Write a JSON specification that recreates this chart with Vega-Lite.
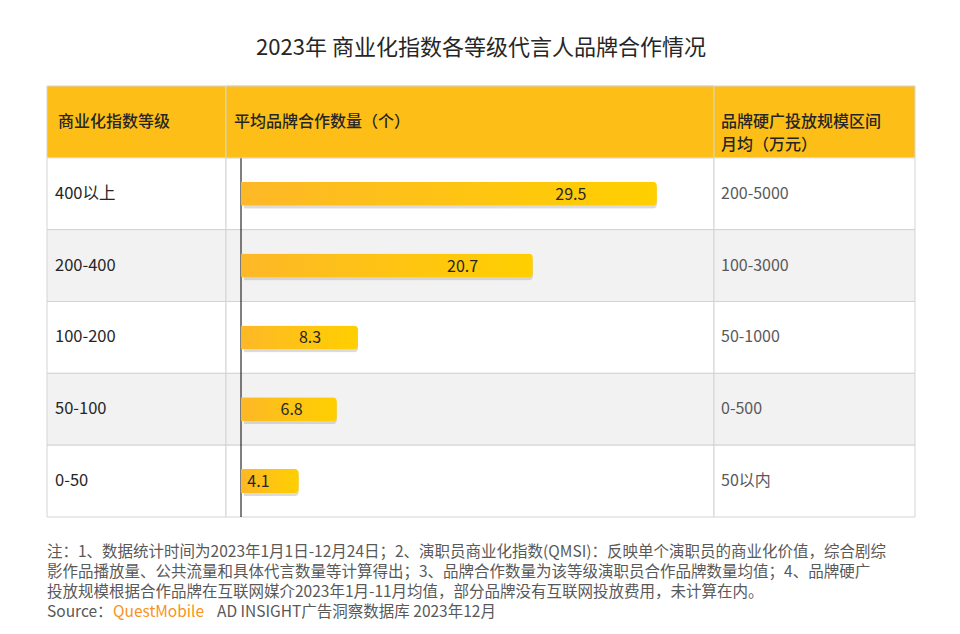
{
  "$schema": "https://vega.github.io/schema/vega-lite/v6.json",
  "padding": {"left": 46, "right": 46, "top": 36, "bottom": 8},
  "background": "white",
  "config": {"font": "Noto Sans CJK SC", "view": {"stroke": null}},
  "title": {"text": "2023年 商业化指数各等级代言人品牌合作情况", "fontSize": 22, "fontWeight": "normal", "color": "#262626", "anchor": "middle", "offset": 26},
  "datasets": {
    "table": [
      {"row": "h", "c1": "商业化指数等级", "c2": "平均品牌合作数量（个）", "c3": "品牌硬广投放规模区间\n月均（万元）"},
      {"row": "400以上", "c1": "400以上", "count": 29.5, "c3": "200-5000"},
      {"row": "200-400", "c1": "200-400", "count": 20.7, "c3": "100-3000"},
      {"row": "100-200", "c1": "100-200", "count": 8.3, "c3": "50-1000"},
      {"row": "50-100", "c1": "50-100", "count": 6.8, "c3": "0-500"},
      {"row": "0-50", "c1": "0-50", "count": 4.1, "c3": "50以内"}
    ],
    "notes": [
      {"line": 1, "part": "n", "text": "注：1、数据统计时间为2023年1月1日-12月24日；2、演职员商业化指数(QMSI)：反映单个演职员的商业化价值，综合剧综"},
      {"line": 2, "part": "n", "text": "影作品播放量、公共流量和具体代言数量等计算得出；3、品牌合作数量为该等级演职员合作品牌数量均值；4、品牌硬广"},
      {"line": 3, "part": "n", "text": "投放规模根据合作品牌在互联网媒介2023年1月-11月均值，部分品牌没有互联网投放费用，未计算在内。"},
      {"line": 4, "part": "a", "text": "Source："},
      {"line": 4, "part": "b", "text": "QuestMobile"},
      {"line": 4, "part": "c", "text": "AD INSIGHT广告洞察数据库 2023年12月"}
    ]
  },
  "spacing": 24,
  "vconcat": [
    {
      "spacing": 0,
      "bounds": "flush",
      "hconcat": [
        {
          "width": 179, "height": 431,
          "data": {"name": "table"},
          "layer": [
            {
              "mark": {"type": "rect", "stroke": "#D4D4D4", "strokeWidth": 1},
              "encoding": {
                "x": {"value": 0}, "x2": {"value": "width"},
                "y": {"field": "row", "type": "nominal", "sort": null, "scale": {"domain": ["h", "400以上", "200-400", "100-200", "50-100", "0-50"], "paddingInner": 0, "paddingOuter": 0}, "axis": null},
                "fill": {"field": "row", "type": "nominal", "scale": {"domain": ["h", "400以上", "200-400", "100-200", "50-100", "0-50"], "range": ["#FDBF17", "#FFFFFF", "#F2F2F2", "#FFFFFF", "#F2F2F2", "#FFFFFF"]}, "legend": null}
              }
            },
            {
              "transform": [{"filter": "datum.row === 'h'"}],
              "mark": {"type": "text", "align": "left", "baseline": "middle", "dx": 11, "fontSize": 16, "fontWeight": 500, "color": "#262626"},
              "encoding": {
                "x": {"value": 0},
                "y": {"field": "row", "type": "nominal", "scale": {"domain": ["h", "400以上", "200-400", "100-200", "50-100", "0-50"], "paddingInner": 0, "paddingOuter": 0}, "axis": null},
                "text": {"field": "c1"}
              }
            },
            {
              "transform": [{"filter": "datum.row !== 'h'"}],
              "mark": {"type": "text", "align": "left", "baseline": "middle", "dx": 8, "fontSize": 16.5, "color": "#262626"},
              "encoding": {
                "x": {"value": 0},
                "y": {"field": "row", "type": "nominal", "scale": {"domain": ["h", "400以上", "200-400", "100-200", "50-100", "0-50"], "paddingInner": 0, "paddingOuter": 0}, "axis": null},
                "text": {"field": "c1"}
              }
            }
          ]
        },
        {
          "width": 488, "height": 431,
          "data": {"name": "table"},
          "resolve": {"scale": {"x": "independent"}},
          "layer": [
            {
              "mark": {"type": "rect", "stroke": "#D4D4D4", "strokeWidth": 1},
              "encoding": {
                "x": {"value": 0}, "x2": {"value": "width"},
                "y": {"field": "row", "type": "nominal", "scale": {"domain": ["h", "400以上", "200-400", "100-200", "50-100", "0-50"], "paddingInner": 0, "paddingOuter": 0}, "axis": null},
                "fill": {"field": "row", "type": "nominal", "scale": {"domain": ["h", "400以上", "200-400", "100-200", "50-100", "0-50"], "range": ["#FDBF17", "#FFFFFF", "#F2F2F2", "#FFFFFF", "#F2F2F2", "#FFFFFF"]}, "legend": null}
              }
            },
            {
              "transform": [{"filter": "datum.row === 'h'"}],
              "mark": {"type": "rule", "color": "#000000", "strokeWidth": 1},
              "encoding": {
                "x": {"datum": 0, "type": "quantitative", "scale": {"domain": [-1.064, 33.55], "nice": false, "zero": false}, "axis": null}
              }
            },
            {
              "transform": [{"filter": "datum.row === 'h'"}],
              "mark": {"type": "rect", "stroke": "#D4D4D4", "strokeWidth": 1, "fill": "#FDBF17"},
              "encoding": {
                "x": {"value": 0}, "x2": {"value": "width"},
                "y": {"field": "row", "type": "nominal", "scale": {"domain": ["h", "400以上", "200-400", "100-200", "50-100", "0-50"], "paddingInner": 0, "paddingOuter": 0}, "axis": null}
              }
            },
            {
              "transform": [{"filter": "datum.row === 'h'"}],
              "mark": {"type": "text", "align": "left", "baseline": "middle", "dx": 8, "fontSize": 16, "fontWeight": 500, "color": "#262626"},
              "encoding": {
                "x": {"value": 0},
                "y": {"field": "row", "type": "nominal", "scale": {"domain": ["h", "400以上", "200-400", "100-200", "50-100", "0-50"], "paddingInner": 0, "paddingOuter": 0}, "axis": null},
                "text": {"field": "c2"}
              }
            },
            {
              "transform": [{"filter": "datum.row !== 'h'"}],
              "mark": {"type": "bar", "height": 24, "cornerRadiusEnd": 4, "color": "#A6A6A6", "opacity": 0.4, "xOffset": 3, "yOffset": 3},
              "encoding": {
                "x": {"field": "count", "type": "quantitative", "scale": {"domain": [-1.064, 33.55], "nice": false, "zero": false}, "axis": null},
                "y": {"field": "row", "type": "nominal", "scale": {"domain": ["h", "400以上", "200-400", "100-200", "50-100", "0-50"], "paddingInner": 0, "paddingOuter": 0}, "axis": null}
              }
            },
            {
              "transform": [{"filter": "datum.row !== 'h'"}],
              "mark": {"type": "bar", "height": 24, "cornerRadiusEnd": 4, "color": {"gradient": "linear", "x1": 0, "x2": 1, "y1": 0, "y2": 0, "stops": [{"offset": 0, "color": "#FDB827"}, {"offset": 1, "color": "#FFCF00"}]}},
              "encoding": {
                "x": {"field": "count", "type": "quantitative", "scale": {"domain": [-1.064, 33.55], "nice": false, "zero": false}, "axis": null},
                "y": {"field": "row", "type": "nominal", "scale": {"domain": ["h", "400以上", "200-400", "100-200", "50-100", "0-50"], "paddingInner": 0, "paddingOuter": 0}, "axis": null}
              }
            },
            {
              "transform": [{"filter": "datum.row !== 'h'"}],
              "mark": {"type": "text", "align": "center", "baseline": "middle", "dy": 1, "fontSize": 16, "color": "#262626"},
              "encoding": {
                "x": {"field": "count", "type": "quantitative", "scale": {"domain": [1.463, 41.14], "nice": false, "zero": false}, "axis": null},
                "y": {"field": "row", "type": "nominal", "scale": {"domain": ["h", "400以上", "200-400", "100-200", "50-100", "0-50"], "paddingInner": 0, "paddingOuter": 0}, "axis": null},
                "text": {"field": "count", "type": "quantitative", "format": ".1f"}
              }
            }
          ]
        },
        {
          "width": 201, "height": 431,
          "data": {"name": "table"},
          "layer": [
            {
              "mark": {"type": "rect", "stroke": "#D4D4D4", "strokeWidth": 1},
              "encoding": {
                "x": {"value": 0}, "x2": {"value": "width"},
                "y": {"field": "row", "type": "nominal", "scale": {"domain": ["h", "400以上", "200-400", "100-200", "50-100", "0-50"], "paddingInner": 0, "paddingOuter": 0}, "axis": null},
                "fill": {"field": "row", "type": "nominal", "scale": {"domain": ["h", "400以上", "200-400", "100-200", "50-100", "0-50"], "range": ["#FDBF17", "#FFFFFF", "#F2F2F2", "#FFFFFF", "#F2F2F2", "#FFFFFF"]}, "legend": null}
              }
            },
            {
              "transform": [{"filter": "datum.row === 'h'"}],
              "mark": {"type": "text", "align": "left", "baseline": "middle", "dx": 7, "fontSize": 16, "fontWeight": 500, "color": "#262626", "lineBreak": "\n", "lineHeight": 23},
              "encoding": {
                "x": {"value": 0},
                "y": {"field": "row", "type": "nominal", "scale": {"domain": ["h", "400以上", "200-400", "100-200", "50-100", "0-50"], "paddingInner": 0, "paddingOuter": 0}, "axis": null},
                "text": {"field": "c3"}
              }
            },
            {
              "transform": [{"filter": "datum.row !== 'h'"}],
              "mark": {"type": "text", "align": "left", "baseline": "middle", "dx": 7, "fontSize": 16, "color": "#595959"},
              "encoding": {
                "x": {"value": 0},
                "y": {"field": "row", "type": "nominal", "scale": {"domain": ["h", "400以上", "200-400", "100-200", "50-100", "0-50"], "paddingInner": 0, "paddingOuter": 0}, "axis": null},
                "text": {"field": "c3"}
              }
            }
          ]
        }
      ]
    },
    {
      "width": 868, "height": 80,
      "data": {"name": "notes"},
      "layer": [
        {
          "transform": [{"filter": "datum.part === 'n' || datum.part === 'a'"}],
          "mark": {"type": "text", "align": "left", "baseline": "middle", "fontSize": 15.5, "color": "#595959"},
          "encoding": {
            "x": {"value": 0},
            "y": {"field": "line", "type": "ordinal", "scale": {"paddingInner": 0, "paddingOuter": 0}, "axis": null},
            "text": {"field": "text"}
          }
        },
        {
          "transform": [{"filter": "datum.part === 'b'"}],
          "mark": {"type": "text", "align": "left", "baseline": "middle", "fontSize": 15.5, "color": "#F7931E", "dx": 66},
          "encoding": {
            "x": {"value": 0},
            "y": {"field": "line", "type": "ordinal", "scale": {"paddingInner": 0, "paddingOuter": 0}, "axis": null},
            "text": {"field": "text"}
          }
        },
        {
          "transform": [{"filter": "datum.part === 'c'"}],
          "mark": {"type": "text", "align": "left", "baseline": "middle", "fontSize": 15.5, "color": "#595959", "dx": 170},
          "encoding": {
            "x": {"value": 0},
            "y": {"field": "line", "type": "ordinal", "scale": {"paddingInner": 0, "paddingOuter": 0}, "axis": null},
            "text": {"field": "text"}
          }
        }
      ]
    }
  ]
}
